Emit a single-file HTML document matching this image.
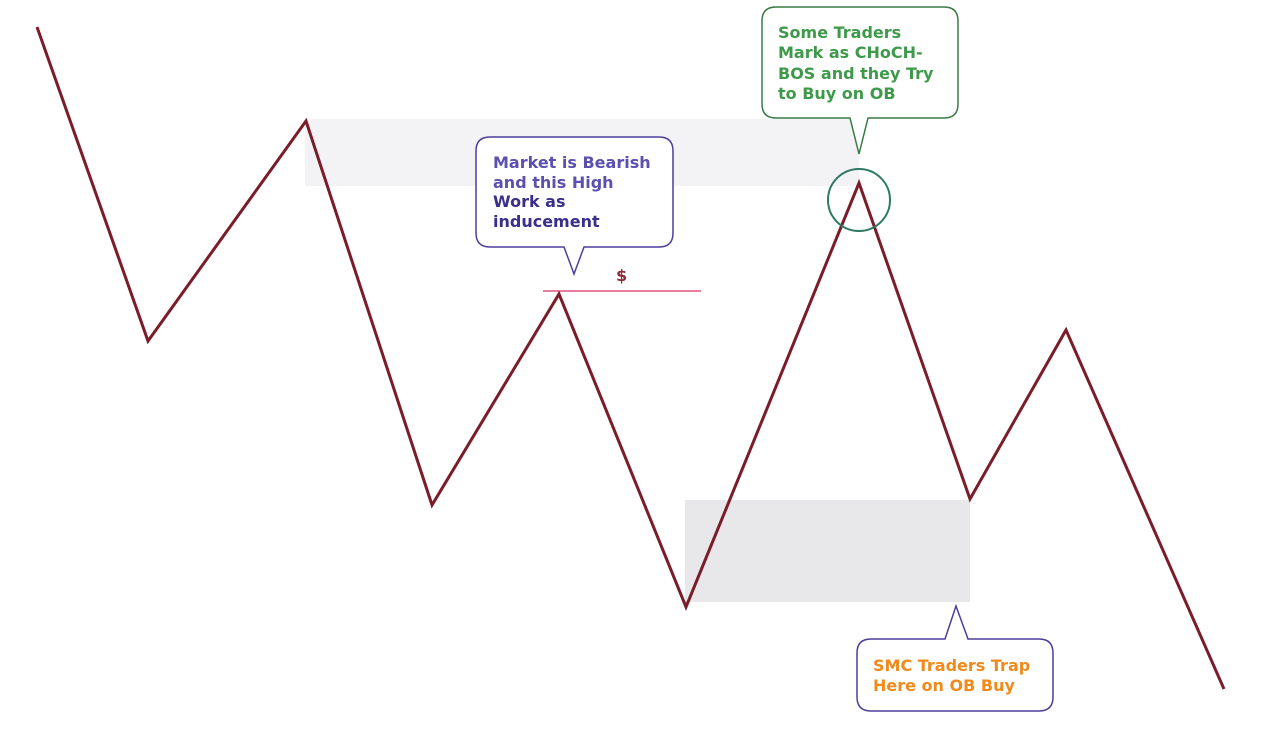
<!DOCTYPE html>
<html><head><meta charset="utf-8"><style>
html,body{margin:0;padding:0;background:#fff;}
svg{display:block;}
text{font-family:"DejaVu Sans","Liberation Sans",sans-serif;font-weight:bold;font-size:16px;}
</style></head><body>
<svg width="1271" height="729" viewBox="0 0 1271 729" xmlns="http://www.w3.org/2000/svg">
<rect x="305" y="119" width="554" height="67" fill="#f3f3f6"/>
<rect x="685" y="500" width="285" height="102" fill="#e8e8ea"/>
<line x1="543" y1="291" x2="701" y2="291" stroke="#e0507a" stroke-width="1.5"/>
<text x="616" y="281" fill="#8a2a3a" font-size="17">$</text>
<polyline points="37,27 148,341 306,121 432,505 559,294 686,607 859,183 970,499 1066,330 1224,689" fill="none" stroke="#7b1c2a" stroke-width="3" stroke-linejoin="miter"/>
<circle cx="859" cy="200" r="31" fill="none" stroke="#2e7a64" stroke-width="2"/>
<!-- callout 1 -->
<path d="M490,137 H659 Q673,137 673,151 V233 Q673,247 659,247 H584 L574,274 L564,247 H490 Q476,247 476,233 V151 Q476,137 490,137 Z" fill="#fff" stroke="#4b3f9a" stroke-width="1.5"/>
<text x="493" y="168" fill="#5b4fb0">Market is Bearish</text>
<text x="493" y="188" fill="#5b4fb0">and this High</text>
<text x="493" y="207" fill="#3a2f8a">Work as</text>
<text x="493" y="227" fill="#3a2f8a">inducement</text>
<!-- callout 2 -->
<path d="M776,7 H944 Q958,7 958,21 V104 Q958,118 944,118 H868 L859,154 L850,118 H776 Q762,118 762,104 V21 Q762,7 776,7 Z" fill="#fff" stroke="#3a7a45" stroke-width="1.5"/>
<text x="778" y="38" fill="#3e9a4a">Some Traders</text>
<text x="778" y="58" fill="#3e9a4a">Mark as CHoCH-</text>
<text x="778" y="79" fill="#3e9a4a">BOS and they Try</text>
<text x="778" y="99" fill="#3e9a4a">to Buy on OB</text>
<!-- callout 3 -->
<path d="M871,639 H945 L956,606 L968,639 H1039 Q1053,639 1053,653 V697 Q1053,711 1039,711 H871 Q857,711 857,697 V653 Q857,639 871,639 Z" fill="#fff" stroke="#4b3f9a" stroke-width="1.5"/>
<text x="873" y="671" fill="#f08a1a">SMC Traders  Trap</text>
<text x="873" y="691" fill="#f08a1a">Here on OB Buy</text>
</svg>
</body></html>
